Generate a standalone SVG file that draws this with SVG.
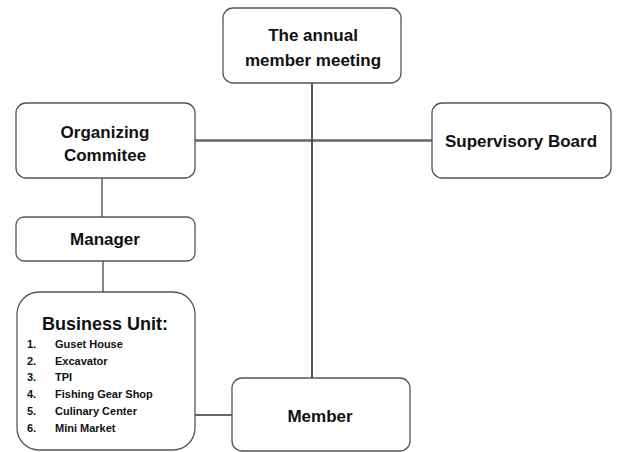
<svg xmlns="http://www.w3.org/2000/svg" width="617" height="452" viewBox="0 0 617 452">
<style>
.box{fill:#fff;stroke:#555;stroke-width:1.3}
.t{font-family:"Liberation Sans",Arial,sans-serif;font-weight:bold;font-size:17px;fill:#111;text-anchor:middle}
.li{font-family:"Liberation Sans",Arial,sans-serif;font-weight:bold;font-size:11px;fill:#111}
.c{fill:none;stroke:#333;stroke-width:1.2}
</style>
<rect width="617" height="452" fill="#fff"/>
<g id="connectors">
<line class="c" x1="195" y1="140.5" x2="432" y2="140.5" style="stroke:#666;stroke-width:2.4"/>
<line class="c" x1="312" y1="83" x2="312" y2="378" style="stroke:#444;stroke-width:1.8"/>
<line class="c" x1="102" y1="178" x2="102" y2="217"/>
<line class="c" x1="103" y1="261" x2="103" y2="292"/>
<line class="c" x1="195" y1="415" x2="232" y2="415" style="stroke-width:1.5"/>
</g>
<g id="annual">
<rect class="box" x="223" y="8" width="178" height="75" rx="10"/>
<text class="t" x="313" y="41">The annual</text>
<text class="t" x="313" y="66">member meeting</text>
</g>
<g id="organizing">
<rect class="box" x="16" y="103" width="179" height="75" rx="10"/>
<text class="t" x="105" y="138">Organizing</text>
<text class="t" x="105" y="161">Commitee</text>
</g>
<g id="supervisory">
<rect class="box" x="432" y="103" width="179" height="75" rx="10"/>
<text class="t" x="521" y="147">Supervisory Board</text>
</g>
<g id="manager">
<rect class="box" x="16" y="217" width="179" height="44" rx="8"/>
<text class="t" x="105" y="245">Manager</text>
</g>
<g id="business">
<rect class="box" x="17" y="292" width="178" height="158" rx="22"/>
<text class="t" x="105" y="330" style="font-size:18px">Business Unit:</text>
<text class="li" x="27" y="348">1.</text><text class="li" x="55" y="348">Guset House</text>
<text class="li" x="27" y="365">2.</text><text class="li" x="55" y="365">Excavator</text>
<text class="li" x="27" y="381">3.</text><text class="li" x="55" y="381">TPI</text>
<text class="li" x="27" y="398">4.</text><text class="li" x="55" y="398">Fishing Gear Shop</text>
<text class="li" x="27" y="415">5.</text><text class="li" x="55" y="415">Culinary Center</text>
<text class="li" x="27" y="432">6.</text><text class="li" x="55" y="432">Mini Market</text>
</g>
<g id="member">
<rect class="box" x="232" y="378" width="178" height="73" rx="10"/>
<text class="t" x="320" y="422">Member</text>
</g>
</svg>
